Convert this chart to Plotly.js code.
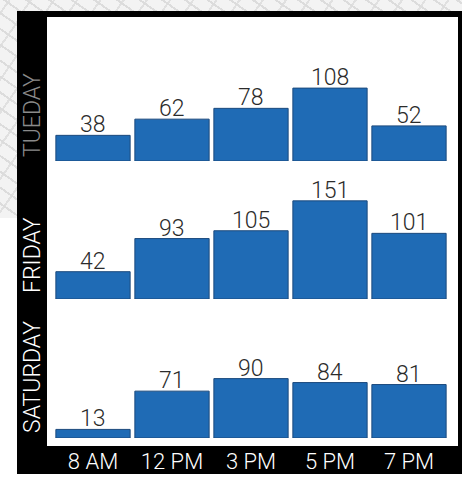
<!DOCTYPE html>
<html><head><meta charset="utf-8">
<script src="https://cdn.plot.ly/plotly-3.0.1.min.js"></script>
<style>
html,body{margin:0;padding:0;background:#fff;overflow:hidden}
#c{position:absolute;left:0;top:0;width:462px;height:478px}
.tex{position:absolute;background-color:#f3f3f3;
 background-image:repeating-linear-gradient(35deg,transparent 0 11px,#dcdcdc 11px 13px),repeating-linear-gradient(-55deg,transparent 0 17px,#e0e0e0 17px 19px)}
</style>
</head><body>
<div class="tex" style="left:0;top:0;width:462px;height:12px"></div>
<div class="tex" style="left:0;top:0;width:18px;height:218px"></div>
<div id="c"></div>
<script>
const hours = ["8 AM","12 PM","3 PM","5 PM","7 PM"];
const days = ["TUEDAY","FRIDAY","SATURDAY"];
const tuesday = [38,62,78,108,52];
const friday = [42,93,105,151,101];
const saturday = [13,71,90,84,81];
const W=462,H=478,L=47,R=458,T=17,B=446;
const barBlue="#1f6bb5", edge="#1c4a7d";
const pxPerUnit=[0.675,0.65,0.66];
const baselines=[161,299,438];
const tops=[30,170,310];
const series=[tuesday,friday,saturday];
const axisNames=[["x","y"],["x2","y2"],["x3","y3"]];
const fontFam="Roboto, sans-serif";
const data=series.map((v,i)=>({type:"bar",x:hours,y:v,xaxis:axisNames[i][0],yaxis:axisNames[i][1],
  marker:{color:barBlue,line:{color:edge,width:1}},showlegend:false,hoverinfo:"skip"}));
const px=x=>(x-L)/(R-L), py=y=>(B-y)/(B-T);
const sideLabels=[
   {text:days[0],x:px(32),y:py(115),color:"#8a8a8a"},
   {text:days[1],x:px(32),y:py(255),color:"#fff"},
   {text:days[2],x:px(32),y:py(377),color:"#fff"}
  ].map(a=>({text:a.text,xref:"paper",yref:"paper",x:a.x,y:a.y,xanchor:"center",yanchor:"middle",showarrow:false,textangle:-90,
     font:{family:fontFam,size:23,color:a.color,weight:300}}));
const valueLabels=[];
series.forEach((v,i)=>v.forEach((val,j)=>valueLabels.push({text:String(val),xref:axisNames[i][0],yref:axisNames[i][1],
   x:hours[j],y:val,xanchor:"center",yanchor:"bottom",yshift:-5,showarrow:false,
   font:{family:fontFam,size:23,color:"#2b2b2b",weight:300}})));
const layout={width:W,height:H,margin:{l:L,r:W-R,t:T,b:H-B},
  paper_bgcolor:"rgba(0,0,0,0)",plot_bgcolor:"rgba(0,0,0,0)",bargap:0.06,showlegend:false,
  font:{family:fontFam},
  shapes:[
   {type:"rect",xref:"paper",yref:"paper",x0:px(17),x1:px(462),y0:py(474),y1:py(11),fillcolor:"#000",line:{width:0},layer:"below"},
   {type:"rect",xref:"paper",yref:"paper",x0:0,x1:1,y0:0,y1:1,fillcolor:"#fff",line:{width:0},layer:"below"}
  ],
  annotations:sideLabels.concat(valueLabels)
};
const xRange=[(L-93)/79,(R-93)/79];
["xaxis","xaxis2","xaxis3"].forEach((k,i)=>{
  layout[k]={type:"category",categoryorder:"array",categoryarray:hours,range:xRange,domain:[0,1],anchor:"y"+(i?i+1:""),
    showgrid:false,zeroline:false,showline:false,ticks:"",ticklabelstandoff:8,
    showticklabels:i===2,tickfont:{family:fontFam,size:22,color:"#fff",weight:300}};
});
["yaxis","yaxis2","yaxis3"].forEach((k,i)=>{
  layout[k]={domain:[py(baselines[i]),py(tops[i])],range:[0,(baselines[i]-tops[i])/pxPerUnit[i]],anchor:"x"+(i?i+1:""),
    showgrid:false,zeroline:false,showline:false,showticklabels:false,ticks:""};
});
Plotly.newPlot("c",data,layout,{displayModeBar:false,staticPlot:true});
</script></body></html>
